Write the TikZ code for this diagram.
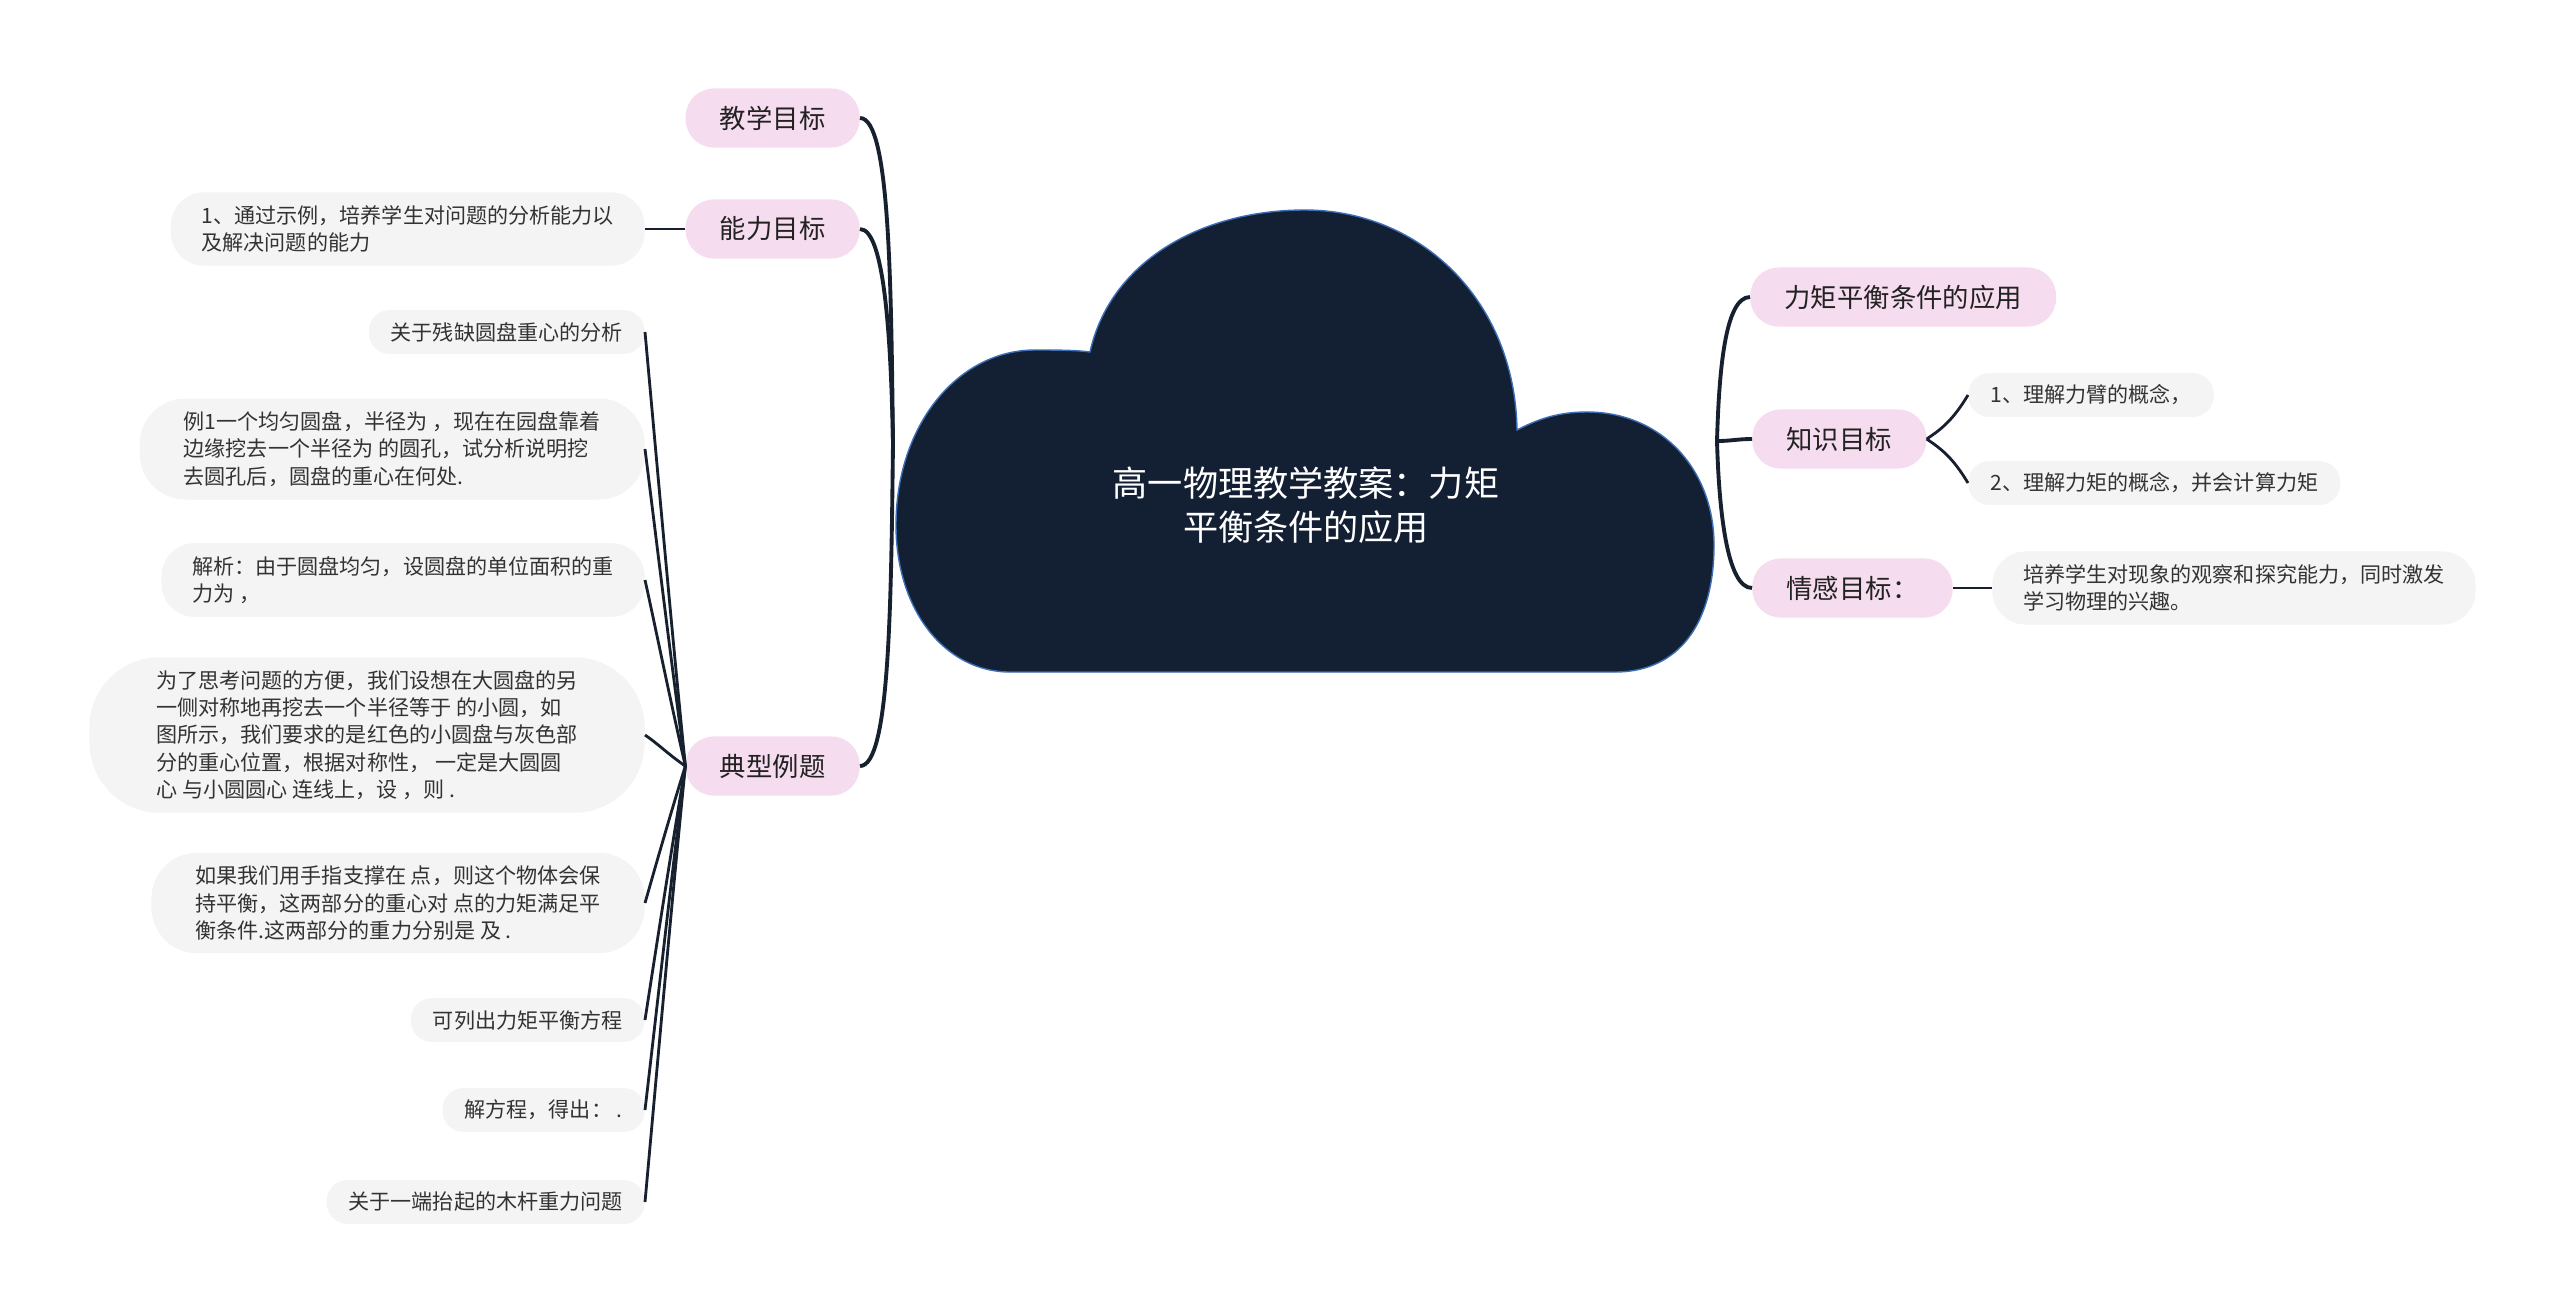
\documentclass[tikz,border=0pt]{standalone}
\usepackage{fontspec}
\setmainfont{Noto Sans CJK SC}
\definecolor{pinkc}{HTML}{F6DCEF}
\definecolor{leafc}{HTML}{F4F4F4}
\definecolor{linec}{HTML}{16202E}
\definecolor{cloudc}{HTML}{131F32}
\definecolor{cloudb}{HTML}{3D6FB6}
\definecolor{textc}{HTML}{222222}
\definecolor{textd}{HTML}{333333}
\begin{document}
\begin{tikzpicture}[x={(0.02cm,0)},y={(0,-0.02cm)},
  lvl/.style={rectangle, rounded corners=16pt, fill=pinkc, minimum height=33.6pt, inner xsep=19.5pt, inner ysep=0pt, font=\fontsize{15}{18}\selectfont, text=textc},
  leaf/.style={rectangle, fill=leafc, inner ysep=7.5pt, align=left, font=\fontsize{12}{15.5}\selectfont, text=textd},
  leafA/.style={leaf, rounded corners=12pt, minimum height=25pt, inner ysep=0pt, inner xsep=12.5pt},
  leafB/.style={leaf, rounded corners=19pt, inner xsep=17.5pt},
  leafC/.style={leaf, rounded corners=26pt, inner xsep=25pt},
  leafE/.style={leaf, rounded corners=40pt, inner xsep=38pt},
  conn/.style={draw=linec, line width=2.2pt},
  sconn/.style={draw=linec, line width=1.6pt}]
\useasboundingbox (0,0) rectangle (2560,1313);
\fill[white] (0,0) rectangle (2560,1313);

% cloud
\filldraw[fill=cloudc, draw=cloudb, line width=0.8pt]
 (1090,352) .. controls (1110,262) and (1200,210) .. (1305,210)
 .. controls (1420,210) and (1515,300) .. (1517,430)
 .. controls (1540,418) and (1560,412) .. (1587,412)
 .. controls (1662,412) and (1714,470) .. (1714,545)
 .. controls (1714,622) and (1680,672) .. (1615,672)
 -- (1010,672)
 .. controls (945,672) and (896,610) .. (896,525)
 .. controls (896,425) and (958,350) .. (1035,350)
 .. controls (1055,350) and (1075,350) .. (1090,352) -- cycle;
\node[text=white, align=center, font=\fontsize{20}{25}\selectfont] (root) at (1306,505) {高一物理教学教案：力矩\\平衡条件的应用};

\coordinate (hubL) at (893,443);
\coordinate (hubR) at (1717,441);

% left level 1
\node[lvl, anchor=east] (t1) at (860,118) {教学目标};
\node[lvl, anchor=east] (t2) at (860,229) {能力目标};
\node[lvl, anchor=east] (t3) at (860,766) {典型例题};

% right level 1
\node[lvl, anchor=west] (r1) at (1750,297) {力矩平衡条件的应用};
\node[lvl, anchor=west] (r2) at (1752,439) {知识目标};
\node[lvl, anchor=west] (r3) at (1752,588) {情感目标：};

% leaves
\node[leafB, anchor=east] (a1) at (645,229) {1、通过示例，培养学生对问题的分析能力以\\及解决问题的能力};
\node[leafA, anchor=east] (b1) at (645,332) {关于残缺圆盘重心的分析};
\node[leafC, anchor=east] (b2) at (645,449) {例1一个均匀圆盘，半径为 ，现在在园盘靠着\\边缘挖去一个半径为 的圆孔，试分析说明挖\\去圆孔后，圆盘的重心在何处.};
\node[leafB, anchor=east] (b3) at (645,580) {解析：由于圆盘均匀，设圆盘的单位面积的重\\力为 ，};
\node[leafE, anchor=east] (b4) at (645,735) {为了思考问题的方便，我们设想在大圆盘的另\\一侧对称地再挖去一个半径等于 的小圆，如\\图所示，我们要求的是红色的小圆盘与灰色部\\分的重心位置，根据对称性， 一定是大圆圆\\心 与小圆圆心 连线上，设 ，则 .};
\node[leafC, anchor=east] (b5) at (645,903) {如果我们用手指支撑在 点，则这个物体会保\\持平衡，这两部分的重心对 点的力矩满足平\\衡条件.这两部分的重力分别是 及 .};
\node[leafA, anchor=east] (b6) at (645,1020) {可列出力矩平衡方程};
\node[leafA, anchor=east] (b7) at (645,1110) {解方程，得出： .};
\node[leafA, anchor=east] (b8) at (645,1202) {关于一端抬起的木杆重力问题};

\node[leafA, anchor=west] (k1) at (1968,395) {1、理解力臂的概念，};
\node[leafA, anchor=west] (k2) at (1968,483) {2、理解力矩的概念，并会计算力矩};
\node[leafB, anchor=west] (e1) at (1992,588) {培养学生对现象的观察和探究能力，同时激发\\学习物理的兴趣。};

% main connectors
\draw[conn] (t1.east) .. controls +(30,0) and +(-2,-160) .. (hubL);
\draw[conn] (t2.east) .. controls +(25,0) and +(-2,-100) .. (hubL);
\draw[conn] (t3.east) .. controls +(30,0) and +(-2,160) .. (hubL);
\draw[conn] (hubR) .. controls +(2,-70) and +(-25,0) .. (r1.west);
\draw[conn] (hubR) .. controls +(15,0) and +(-15,0) .. (r2.west);
\draw[conn] (hubR) .. controls +(2,70) and +(-25,0) .. (r3.west);

% leaf connectors
\draw[sconn] (t2.west) -- (a1.east);
\draw[sconn] (t3.west) .. controls +(-15,-150) and +(10,110) .. (b1.east);
\draw[sconn] (t3.west) .. controls +(-15,-110) and +(10,80) .. (b2.east);
\draw[sconn] (t3.west) .. controls +(-15,-65) and +(10,45) .. (b3.east);
\draw[sconn] (t3.west) .. controls +(-15,-10) and +(12,8) .. (b4.east);
\draw[sconn] (t3.west) .. controls +(-15,48) and +(10,-35) .. (b5.east);
\draw[sconn] (t3.west) .. controls +(-15,90) and +(10,-65) .. (b6.east);
\draw[sconn] (t3.west) .. controls +(-15,120) and +(10,-85) .. (b7.east);
\draw[sconn] (t3.west) .. controls +(-15,150) and +(10,-110) .. (b8.east);
\draw[sconn] (r2.east) .. controls +(15,-10) and +(-15,25) .. (k1.west);
\draw[sconn] (r2.east) .. controls +(15,10) and +(-15,-25) .. (k2.west);
\draw[sconn] (r3.east) -- (e1.west);
\end{tikzpicture}
\end{document}
